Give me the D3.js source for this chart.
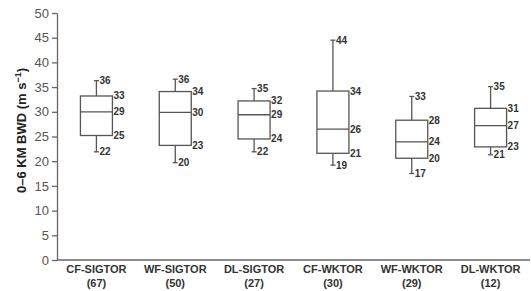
<!DOCTYPE html>
<html>
<head>
<meta charset="utf-8">
<script src="https://cdn.jsdelivr.net/npm/d3@7"></script>
<style>
  body { margin: 0; background: #fff; }
  svg { font-family: Arial, "Liberation Sans", sans-serif; }
</style>
</head>
<body>
<svg id="chart" width="531" height="291"></svg>
<script>
// categories and counts
var categories = ["CF-SIGTOR", "WF-SIGTOR", "DL-SIGTOR", "CF-WKTOR", "WF-WKTOR", "DL-WKTOR"];
var counts = [67, 50, 27, 30, 29, 12];

// box statistics as drawn
var whiskerLow = [21.9, 19.7, 21.9, 19.2, 17.5, 21.3];
var q1 = [25.2, 23.2, 24.5, 21.6, 20.6, 22.9];
var median = [30.0, 29.9, 29.4, 26.5, 23.9, 27.2];
var q3 = [33.2, 34.1, 32.2, 34.2, 28.3, 30.7];
var whiskerHigh = [36.3, 36.6, 34.7, 44.5, 33.1, 35.1];

// value labels printed next to the boxes
var labelLow = [22, 20, 22, 19, 17, 21];
var labelQ1 = [25, 23, 24, 21, 20, 23];
var labelMed = [29, 30, 29, 26, 24, 27];
var labelQ3 = [33, 34, 32, 34, 28, 31];
var labelHigh = [36, 36, 35, 44, 33, 35];

var yTicks = [0, 5, 10, 15, 20, 25, 30, 35, 40, 45, 50];

var svg = d3.select("#chart");
var margin = { left: 57, right: 1, top: 13, bottom: 31 };
var width = 531, height = 291;

var x = d3.scaleBand()
  .domain(categories)
  .range([margin.left, width - margin.right])
  .paddingInner(0)
  .paddingOuter(0);

var y = d3.scaleLinear()
  .domain([0, 50])
  .range([height - margin.bottom, margin.top]);

var lineColor = "#555";

// y axis
var yAxis = svg.append("g")
  .attr("transform", "translate(" + margin.left + ",0)")
  .call(d3.axisLeft(y).tickValues(yTicks).tickSize(5).tickPadding(3).tickSizeOuter(0));
yAxis.select(".domain").attr("stroke", "#666").attr("stroke-width", 1.3);
yAxis.selectAll(".tick line").attr("stroke", "#666").attr("stroke-width", 1.3);
yAxis.selectAll(".tick text")
  .attr("fill", "#555")
  .style("font-size", "13px")
  .style("font-family", "Arial, 'Liberation Sans', sans-serif");

// x axis baseline
svg.append("line")
  .attr("x1", margin.left).attr("x2", width - margin.right)
  .attr("y1", y(0)).attr("y2", y(0))
  .attr("stroke", "#666").attr("stroke-width", 1.3);

// y label
var yLabel = svg.append("text")
  .attr("transform", "translate(26," + ((y(0) + y(50)) / 2 - 6) + ") rotate(-90)")
  .attr("text-anchor", "middle")
  .attr("fill", "#222")
  .style("font-size", "13px")
  .style("font-weight", "bold");
yLabel.append("tspan").text("0–6 KM BWD (m s");
yLabel.append("tspan").attr("dy", -5).style("font-size", "9px").text("−1");
yLabel.append("tspan").attr("dy", 5).text(")");

// category labels
var xl = svg.append("g").selectAll("text")
  .data(categories)
  .enter().append("text")
  .attr("text-anchor", "middle")
  .attr("fill", "#333")
  .style("font-size", "11px")
  .style("font-weight", "bold");
xl.append("tspan")
  .attr("x", function(d) { return x(d) + x.bandwidth() / 2; })
  .attr("y", 273)
  .text(function(d) { return d; });
xl.append("tspan")
  .attr("x", function(d) { return x(d) + x.bandwidth() / 2; })
  .attr("y", 287)
  .text(function(d, i) { return "(" + counts[i] + ")"; });

// boxes
var boxW = 32, capW = 5;
var g = svg.append("g").selectAll("g")
  .data(categories)
  .enter().append("g")
  .attr("transform", function(d) { return "translate(" + (x(d) + x.bandwidth() / 2) + ",0)"; });

g.append("line")
  .attr("x1", 0).attr("x2", 0)
  .attr("y1", function(d, i) { return y(whiskerHigh[i]); })
  .attr("y2", function(d, i) { return y(q3[i]); })
  .attr("stroke", lineColor).attr("stroke-width", 1.3);
g.append("line")
  .attr("x1", 0).attr("x2", 0)
  .attr("y1", function(d, i) { return y(q1[i]); })
  .attr("y2", function(d, i) { return y(whiskerLow[i]); })
  .attr("stroke", lineColor).attr("stroke-width", 1.3);
g.append("line")
  .attr("x1", -capW / 2).attr("x2", capW / 2)
  .attr("y1", function(d, i) { return y(whiskerHigh[i]); })
  .attr("y2", function(d, i) { return y(whiskerHigh[i]); })
  .attr("stroke", lineColor).attr("stroke-width", 1.3);
g.append("line")
  .attr("x1", -capW / 2).attr("x2", capW / 2)
  .attr("y1", function(d, i) { return y(whiskerLow[i]); })
  .attr("y2", function(d, i) { return y(whiskerLow[i]); })
  .attr("stroke", lineColor).attr("stroke-width", 1.3);
g.append("rect")
  .attr("x", -boxW / 2).attr("width", boxW)
  .attr("y", function(d, i) { return y(q3[i]); })
  .attr("height", function(d, i) { return y(q1[i]) - y(q3[i]); })
  .attr("fill", "#fff")
  .attr("stroke", lineColor).attr("stroke-width", 1.3);
g.append("line")
  .attr("x1", -boxW / 2).attr("x2", boxW / 2)
  .attr("y1", function(d, i) { return y(median[i]); })
  .attr("y2", function(d, i) { return y(median[i]); })
  .attr("stroke", lineColor).attr("stroke-width", 1.3);

// value labels
function addLabels(vals, labels, dx) {
  g.append("text")
    .attr("x", dx)
    .attr("y", function(d, i) { return y(vals[i]); })
    .attr("dy", "0.35em")
    .attr("fill", "#333")
    .style("font-size", "10px")
    .style("font-weight", "bold")
    .text(function(d, i) { return labels[i]; });
}
addLabels(whiskerHigh, labelHigh, 3);
addLabels(whiskerLow, labelLow, 3);
addLabels(q3, labelQ3, boxW / 2 + 1);
addLabels(median, labelMed, boxW / 2 + 1);
addLabels(q1, labelQ1, boxW / 2 + 1);
</script>
</body>
</html>
